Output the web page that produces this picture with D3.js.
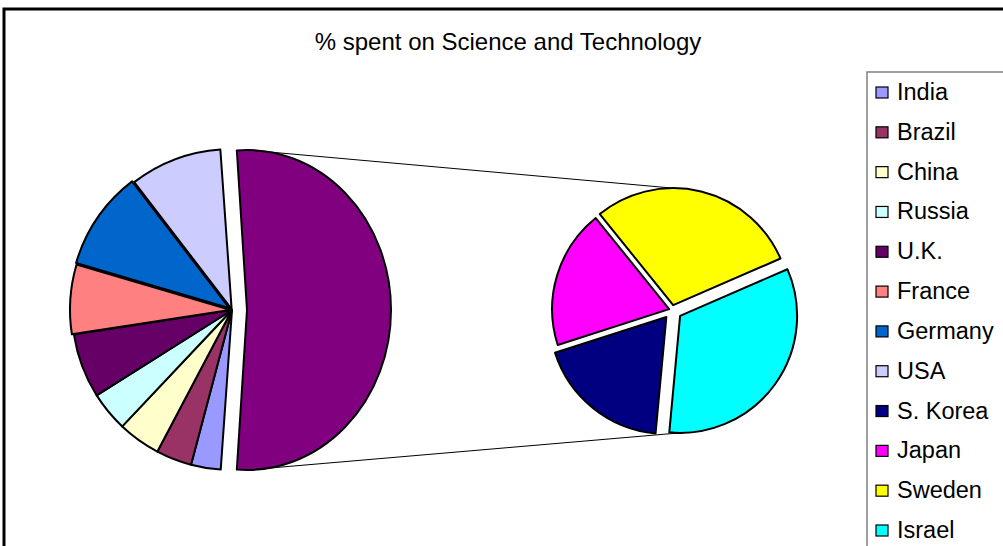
<!DOCTYPE html>
<html>
<head>
<meta charset="utf-8">
<script src="https://cdnjs.cloudflare.com/ajax/libs/d3/7.8.5/d3.min.js"></script>
<style>
  body { margin: 0; background: #fff; }
  text { font-family: "Liberation Sans", Arial, sans-serif; }
</style>
</head>
<body>
<div id="chart"></div>
<script>
"use strict";

// data
var mainCategories = ["India", "Brazil", "China", "Russia", "U.K.", "France", "Germany", "USA"];
var mainValues = [0.8, 0.96, 1.15, 1.07, 1.74, 1.87, 2.67, 2.48];
var splitCategories = ["S. Korea", "Japan", "Sweden", "Israel"];
var splitValues = [2.59, 2.67, 4.08, 4.6];
var otherColor = "#800080";
var colors = {
    "India": "#9999FF", "Brazil": "#993366", "China": "#FFFFCC", "Russia": "#CCFFFF",
    "U.K.": "#660066", "France": "#FF8080", "Germany": "#0066CC", "USA": "#CCCCFF",
    "S. Korea": "#000080", "Japan": "#FF00FF", "Sweden": "#FFFF00", "Israel": "#00FFFF"
};
var title = "% spent on Science and Technology";

// layout
var width = 1003, height = 546;
var mainC = [232, 310], mainR = 160;
var splitC = [672, 310], splitR = 117;
var explode = { "France": 2, "Germany": 3, "USA": 1, "Other": 15,
                "S. Korea": 9, "Japan": 3, "Sweden": 5, "Israel": 10 };
var otherSquash = 0.9;

var svg = d3.select("#chart").append("svg")
    .attr("width", width)
    .attr("height", height);

svg.append("rect")
    .attr("width", width).attr("height", height)
    .attr("fill", "#fff");

// chart frame (runs off the right and bottom)
svg.append("rect")
    .attr("x", 4).attr("y", 9)
    .attr("width", 1100).attr("height", 700)
    .attr("fill", "none")
    .attr("stroke", "#000")
    .attr("stroke-width", 3);

svg.append("text")
    .attr("x", 508).attr("y", 50)
    .attr("text-anchor", "middle")
    .style("font-size", "24px")
    .text(title);

// main pie: the split-off slice is centred on the right
var splitTotal = d3.sum(splitValues);
var total = d3.sum(mainValues) + splitTotal;
var start = Math.PI / 2 + Math.PI * splitTotal / total;

var mainData = mainCategories.map(function (c, i) { return { name: c, value: mainValues[i] }; });
mainData.push({ name: "Other", value: splitTotal });

var mainPie = d3.pie().sort(null).value(function (d) { return d.value; })
    .startAngle(start).endAngle(start + 2 * Math.PI);
var mainArcs = mainPie(mainData);
var mainArc = d3.arc().innerRadius(0).outerRadius(mainR);

function offset(d) {
    var e = explode[d.data.name] || 0;
    var mid = (d.startAngle + d.endAngle) / 2;
    return [Math.sin(mid) * e, -Math.cos(mid) * e];
}

var otherPos;
svg.append("g").selectAll("path")
    .data(mainArcs)
    .enter().append("path")
    .attr("d", mainArc)
    .attr("transform", function (d) {
        var o = offset(d);
        var x = mainC[0] + o[0], y = mainC[1] + o[1];
        if (d.data.name === "Other") {
            otherPos = [x, y];
            return "translate(" + x + "," + y + ") scale(" + otherSquash + ",1)";
        }
        return "translate(" + x + "," + y + ")";
    })
    .attr("fill", function (d) { return d.data.name === "Other" ? otherColor : colors[d.data.name]; })
    .attr("stroke", "#000")
    .attr("stroke-width", 2)
    .attr("stroke-linejoin", "round")
    .attr("vector-effect", "non-scaling-stroke");

// secondary pie
var splitData = splitCategories.map(function (c, i) { return { name: c, value: splitValues[i] }; });
var splitStart = Math.PI + 5.3 * Math.PI / 180;
var splitPie = d3.pie().sort(null).value(function (d) { return d.value; })
    .startAngle(splitStart).endAngle(splitStart + 2 * Math.PI);
var splitArcs = splitPie(splitData);
var splitArc = d3.arc().innerRadius(0).outerRadius(splitR);

svg.append("g").selectAll("path")
    .data(splitArcs)
    .enter().append("path")
    .attr("d", splitArc)
    .attr("transform", function (d) {
        var o = offset(d);
        return "translate(" + (splitC[0] + o[0]) + "," + (splitC[1] + o[1]) + ")";
    })
    .attr("fill", function (d) { return colors[d.data.name]; })
    .attr("stroke", "#000")
    .attr("stroke-width", 2)
    .attr("stroke-linejoin", "round");

// point on the secondary pie at a given angle, following its slice's explosion
function splitPoint(a) {
    var hit = splitArcs.find(function (d) {
        var s = d.startAngle, e = d.endAngle;
        var t = a;
        while (t < s) t += 2 * Math.PI;
        return t <= e;
    });
    var o = hit ? offset(hit) : [0, 0];
    return [splitC[0] + o[0] + Math.sin(a) * splitR, splitC[1] + o[1] - Math.cos(a) * splitR];
}

var topEnd = splitPoint(0), botEnd = splitPoint(Math.PI);
var links = [
    [[otherPos[0], otherPos[1] - mainR], topEnd],
    [[otherPos[0], otherPos[1] + mainR], botEnd]
];
svg.append("g").selectAll("line")
    .data(links)
    .enter().append("line")
    .attr("x1", function (d) { return d[0][0]; })
    .attr("y1", function (d) { return d[0][1]; })
    .attr("x2", function (d) { return d[1][0]; })
    .attr("y2", function (d) { return d[1][1]; })
    .attr("stroke", "#000")
    .attr("stroke-width", 1);

// legend
var legendNames = mainCategories.concat(splitCategories);
var ly = d3.scaleLinear().domain([0, legendNames.length - 1]).range([92, 530]);

svg.append("rect")
    .attr("x", 867).attr("y", 72)
    .attr("width", 300).attr("height", 600)
    .attr("fill", "#fff")
    .attr("stroke", "#808080")
    .attr("stroke-width", 1.5);

var items = svg.append("g").selectAll("g")
    .data(legendNames)
    .enter().append("g")
    .attr("transform", function (d, i) { return "translate(876," + ly(i) + ")"; });

items.append("rect")
    .attr("x", 0).attr("y", -5)
    .attr("width", 12).attr("height", 11)
    .attr("fill", function (d) { return colors[d]; })
    .attr("stroke", "#000")
    .attr("stroke-width", 1.2);

items.append("text")
    .attr("x", 21).attr("y", 8)
    .style("font-size", "23.5px")
    .text(function (d) { return d; });
</script>
</body>
</html>
